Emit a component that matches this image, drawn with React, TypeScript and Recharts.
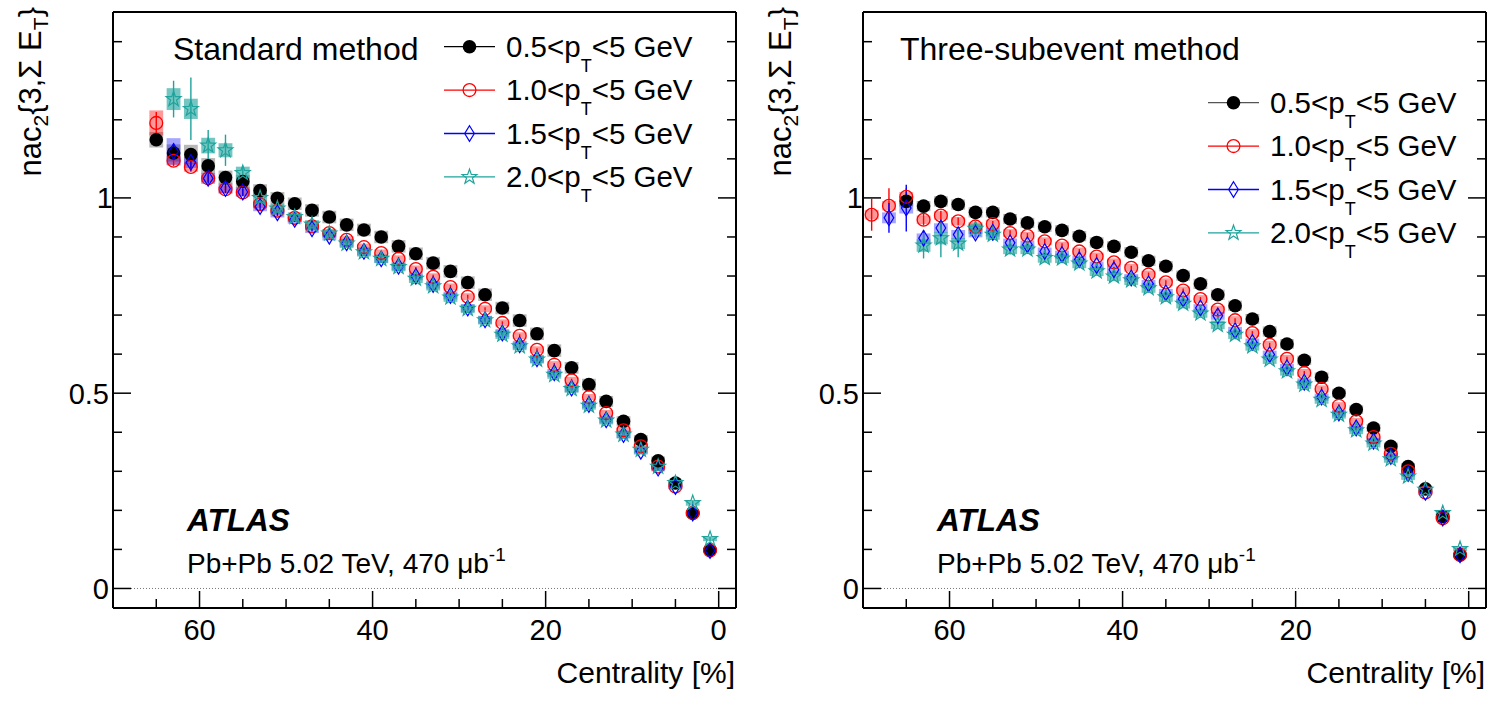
import React from 'react';
import { ComposedChart, Scatter, XAxis, YAxis, ErrorBar, ReferenceArea, ReferenceLine, Legend } from 'recharts';

const FONT = '"Liberation Sans", Arial, Helvetica, sans-serif';

// ---------- axis ticks ----------
const xTicks = [0, 5, 10, 15, 20, 25, 30, 35, 40, 45, 50, 55, 60, 65];
const xMajor = [0, 20, 40, 60];
const yTicks = [0, 0.1, 0.2, 0.3, 0.4, 0.5, 0.6, 0.7, 0.8, 0.9, 1.0, 1.1, 1.2, 1.3, 1.4];
const yMajor = [0, 0.5, 1];
const yTickLabels = ['0', '0.5', '1'];

// ---------- centrality bin centres (%) ----------
const cent69 = [69, 67, 65, 63, 61, 59, 57, 55, 53, 51, 49, 47, 45, 43, 41, 39, 37, 35, 33, 31, 29, 27, 25, 23, 21, 19, 17, 15, 13, 11, 9, 7, 5, 3, 1];
const cent67 = [67, 65, 63, 61, 59, 57, 55, 53, 51, 49, 47, 45, 43, 41, 39, 37, 35, 33, 31, 29, 27, 25, 23, 21, 19, 17, 15, 13, 11, 9, 7, 5, 3, 1];
const cent65 = [65, 63, 61, 59, 57, 55, 53, 51, 49, 47, 45, 43, 41, 39, 37, 35, 33, 31, 29, 27, 25, 23, 21, 19, 17, 15, 13, 11, 9, 7, 5, 3, 1];
const cent63 = [63, 61, 59, 57, 55, 53, 51, 49, 47, 45, 43, 41, 39, 37, 35, 33, 31, 29, 27, 25, 23, 21, 19, 17, 15, 13, 11, 9, 7, 5, 3, 1];

// ---------- legend labels (lower pT bound) ----------
const ptLow = ['0.5', '1.0', '1.5', '2.0'];

// ---------- Standard method ----------
const stdBlack = [1.149, 1.115, 1.111, 1.082, 1.052, 1.042, 1.019, 0.999, 0.985, 0.968, 0.951, 0.931, 0.918, 0.900, 0.876, 0.857, 0.833, 0.812, 0.783, 0.752, 0.718, 0.686, 0.652, 0.609, 0.565, 0.522, 0.479, 0.428, 0.381, 0.327, 0.270, 0.193, 0.099];
const stdBlackStat = [0.012, 0.01, 0.01, 0.008, 0.007, 0.006, 0.006, 0.005, 0.005, 0.005, 0.004, 0.004, 0.004, 0.004, 0.004, 0.004, 0.004, 0.004, 0.004, 0.004, 0.004, 0.003, 0.003, 0.003, 0.003, 0.003, 0.003, 0.003, 0.003, 0.003, 0.003, 0.003, 0.003];
const stdBlackSys = [0.02, 0.022, 0.025, 0.02, 0.018, 0.017, 0.016, 0.016, 0.016, 0.016, 0.016, 0.016, 0.016, 0.016, 0.016, 0.016, 0.016, 0.016, 0.016, 0.016, 0.016, 0.016, 0.016, 0.016, 0.015, 0.015, 0.014, 0.013, 0.012, 0.011, 0.009, 0.007, 0.005];

const stdRed = [1.192, 1.095, 1.079, 1.050, 1.022, 1.014, 0.984, 0.967, 0.949, 0.927, 0.910, 0.893, 0.874, 0.859, 0.844, 0.818, 0.798, 0.772, 0.747, 0.716, 0.680, 0.647, 0.611, 0.573, 0.533, 0.490, 0.449, 0.405, 0.364, 0.312, 0.261, 0.193, 0.097];
const stdRedStat = [0.028, 0.014, 0.012, 0.01, 0.009, 0.008, 0.007, 0.006, 0.006, 0.005, 0.005, 0.005, 0.005, 0.005, 0.005, 0.005, 0.005, 0.005, 0.005, 0.004, 0.004, 0.004, 0.004, 0.004, 0.004, 0.004, 0.004, 0.004, 0.004, 0.004, 0.004, 0.004, 0.004];
const stdRedSys = [0.032, 0.012, 0.012, 0.01, 0.01, 0.01, 0.01, 0.01, 0.01, 0.009, 0.009, 0.009, 0.009, 0.009, 0.009, 0.009, 0.009, 0.009, 0.009, 0.009, 0.009, 0.009, 0.009, 0.009, 0.009, 0.008, 0.008, 0.008, 0.007, 0.007, 0.006, 0.005, 0.004];

const stdBlue = [1.119, 1.091, 1.050, 1.024, 1.015, 0.978, 0.962, 0.945, 0.921, 0.902, 0.885, 0.863, 0.844, 0.825, 0.799, 0.778, 0.750, 0.718, 0.688, 0.654, 0.624, 0.588, 0.552, 0.513, 0.471, 0.432, 0.394, 0.351, 0.308, 0.261, 0.193, 0.097];
const stdBlueStat = [0.02, 0.016, 0.014, 0.012, 0.01, 0.009, 0.008, 0.007, 0.007, 0.006, 0.006, 0.006, 0.006, 0.006, 0.006, 0.005, 0.005, 0.005, 0.005, 0.005, 0.005, 0.005, 0.005, 0.005, 0.005, 0.005, 0.005, 0.005, 0.005, 0.005, 0.005, 0.005];
const stdBlueSys = [0.034, 0.014, 0.014, 0.013, 0.012, 0.012, 0.012, 0.011, 0.011, 0.011, 0.01, 0.01, 0.01, 0.01, 0.01, 0.01, 0.01, 0.01, 0.01, 0.01, 0.01, 0.01, 0.01, 0.01, 0.009, 0.009, 0.009, 0.008, 0.008, 0.007, 0.006, 0.005];

const stdTeal = [1.253, 1.228, 1.134, 1.122, 1.064, 1.000, 0.973, 0.951, 0.932, 0.909, 0.883, 0.861, 0.844, 0.823, 0.793, 0.774, 0.745, 0.716, 0.687, 0.650, 0.620, 0.586, 0.547, 0.511, 0.468, 0.430, 0.394, 0.355, 0.312, 0.270, 0.219, 0.127];
const stdTealStat = [0.047, 0.08, 0.04, 0.04, 0.016, 0.013, 0.011, 0.01, 0.009, 0.008, 0.008, 0.007, 0.007, 0.007, 0.007, 0.007, 0.006, 0.006, 0.006, 0.006, 0.006, 0.006, 0.006, 0.006, 0.006, 0.006, 0.006, 0.006, 0.006, 0.006, 0.006, 0.006];
const stdTealSys = [0.028, 0.026, 0.02, 0.018, 0.016, 0.013, 0.012, 0.012, 0.011, 0.011, 0.011, 0.011, 0.011, 0.011, 0.011, 0.011, 0.011, 0.011, 0.011, 0.011, 0.01, 0.01, 0.01, 0.01, 0.01, 0.01, 0.01, 0.009, 0.009, 0.008, 0.007, 0.006];

// ---------- Three-subevent method ----------
const subBlack = [0.991, 0.979, 0.991, 0.983, 0.963, 0.963, 0.946, 0.936, 0.926, 0.917, 0.902, 0.886, 0.876, 0.861, 0.839, 0.825, 0.801, 0.780, 0.752, 0.724, 0.690, 0.658, 0.626, 0.584, 0.541, 0.500, 0.458, 0.411, 0.364, 0.312, 0.255, 0.184, 0.086];
const subBlackStat = [0.015, 0.012, 0.01, 0.009, 0.008, 0.007, 0.006, 0.006, 0.005, 0.005, 0.005, 0.005, 0.004, 0.004, 0.004, 0.004, 0.004, 0.004, 0.004, 0.004, 0.004, 0.004, 0.004, 0.004, 0.004, 0.004, 0.003, 0.003, 0.003, 0.003, 0.003, 0.003, 0.003];
const subBlackSys = [0.013, 0.013, 0.013, 0.013, 0.013, 0.013, 0.013, 0.013, 0.013, 0.013, 0.013, 0.013, 0.013, 0.013, 0.013, 0.013, 0.013, 0.013, 0.013, 0.013, 0.013, 0.013, 0.012, 0.012, 0.012, 0.011, 0.011, 0.01, 0.01, 0.009, 0.008, 0.007, 0.005];

const subRed = [0.957, 0.980, 1.003, 0.944, 0.955, 0.940, 0.927, 0.933, 0.910, 0.903, 0.889, 0.878, 0.863, 0.850, 0.835, 0.821, 0.804, 0.784, 0.763, 0.741, 0.714, 0.687, 0.654, 0.624, 0.588, 0.552, 0.511, 0.468, 0.428, 0.388, 0.345, 0.300, 0.246, 0.180, 0.086];
const subRedStat = [0.041, 0.045, 0.022, 0.015, 0.012, 0.01, 0.009, 0.008, 0.007, 0.007, 0.006, 0.006, 0.006, 0.006, 0.006, 0.005, 0.005, 0.005, 0.005, 0.005, 0.005, 0.005, 0.005, 0.005, 0.005, 0.005, 0.005, 0.004, 0.004, 0.004, 0.004, 0.004, 0.004, 0.004, 0.004];
const subRedSys = [0.012, 0.012, 0.012, 0.011, 0.011, 0.011, 0.011, 0.011, 0.01, 0.01, 0.01, 0.01, 0.01, 0.01, 0.01, 0.01, 0.01, 0.01, 0.01, 0.01, 0.01, 0.01, 0.01, 0.01, 0.01, 0.01, 0.009, 0.009, 0.009, 0.008, 0.008, 0.007, 0.006, 0.005, 0.004];

const subBlue = [0.949, 0.974, 0.897, 0.923, 0.906, 0.910, 0.912, 0.885, 0.880, 0.863, 0.855, 0.842, 0.827, 0.816, 0.795, 0.780, 0.757, 0.741, 0.718, 0.698, 0.660, 0.630, 0.599, 0.565, 0.528, 0.490, 0.449, 0.411, 0.377, 0.338, 0.294, 0.246, 0.180, 0.086];
const subBlueStat = [0.038, 0.06, 0.02, 0.016, 0.013, 0.011, 0.01, 0.009, 0.008, 0.008, 0.007, 0.007, 0.007, 0.007, 0.006, 0.006, 0.006, 0.006, 0.006, 0.006, 0.006, 0.006, 0.006, 0.006, 0.005, 0.005, 0.005, 0.005, 0.005, 0.005, 0.005, 0.005, 0.005, 0.005];
const subBlueSys = [0.014, 0.014, 0.012, 0.012, 0.012, 0.011, 0.011, 0.011, 0.011, 0.01, 0.01, 0.01, 0.01, 0.01, 0.01, 0.01, 0.01, 0.01, 0.01, 0.01, 0.01, 0.01, 0.01, 0.01, 0.01, 0.009, 0.009, 0.009, 0.008, 0.008, 0.007, 0.006, 0.005, 0.004];

const subTeal = [0.878, 0.897, 0.883, 0.921, 0.906, 0.868, 0.868, 0.846, 0.845, 0.832, 0.812, 0.799, 0.789, 0.769, 0.746, 0.729, 0.704, 0.675, 0.650, 0.620, 0.586, 0.556, 0.522, 0.483, 0.445, 0.405, 0.371, 0.331, 0.287, 0.253, 0.193, 0.101];
const subTealStat = [0.033, 0.049, 0.035, 0.025, 0.016, 0.013, 0.011, 0.01, 0.009, 0.009, 0.008, 0.008, 0.008, 0.007, 0.007, 0.007, 0.007, 0.007, 0.007, 0.007, 0.006, 0.006, 0.006, 0.006, 0.006, 0.006, 0.006, 0.006, 0.006, 0.006, 0.006, 0.006];
const subTealSys = [0.016, 0.016, 0.014, 0.013, 0.013, 0.012, 0.012, 0.012, 0.012, 0.012, 0.012, 0.012, 0.012, 0.012, 0.012, 0.012, 0.011, 0.011, 0.011, 0.011, 0.011, 0.011, 0.011, 0.01, 0.01, 0.01, 0.01, 0.009, 0.009, 0.008, 0.007, 0.006];

// ---------- styles ----------
const BLACK = '#000000';
const RED = '#ff0000';
const BLUE = '#0000ff';
const TEAL = '#1fa39c';

type Kind = 'dot' | 'circle' | 'diamond' | 'star';
interface Series {
  name: string;
  cent: number[];
  val: number[];
  stat: number[];
  sys: number[];
  color: string;
  boxColor: string;
  boxOpacity: number;
  kind: Kind;
}

function starPath(cx: number, cy: number, R: number, r: number) {
  let d = '';
  for (let i = 0; i < 10; i++) {
    const a = -Math.PI / 2 + (i * Math.PI) / 5;
    const rad = i % 2 === 0 ? R : r;
    d += (i === 0 ? 'M' : 'L') + (cx + rad * Math.cos(a)).toFixed(2) + ',' + (cy + rad * Math.sin(a)).toFixed(2);
  }
  return d + 'Z';
}

function marker(kind: Kind, cx: number, cy: number, color: string) {
  if (cx == null || cy == null || isNaN(cx) || isNaN(cy)) return <g />;
  switch (kind) {
    case 'dot':
      return <circle cx={cx} cy={cy} r={6.8} fill={color} stroke="none" />;
    case 'circle':
      return <circle cx={cx} cy={cy} r={6.4} fill="none" stroke={color} strokeWidth={1.3} />;
    case 'diamond':
      return <path d={`M${cx},${cy - 7.8}L${cx + 4.8},${cy}L${cx},${cy + 7.8}L${cx - 4.8},${cy}Z`} fill="none" stroke={color} strokeWidth={1.2} />;
    default:
      return <path d={starPath(cx, cy, 7.8, 3.1)} fill="none" stroke={color} strokeWidth={1.2} />;
  }
}

function mkSeries(name: string, cent: number[], val: number[], stat: number[], sys: number[], color: string, boxColor: string, boxOpacity: number, kind: Kind): Series {
  return { name, cent, val, stat, sys, color, boxColor, boxOpacity, kind };
}

const stdSeries: Series[] = [
  mkSeries(ptLow[0], cent65, stdBlack, stdBlackStat, stdBlackSys, BLACK, '#000000', 0.28, 'dot'),
  mkSeries(ptLow[1], cent65, stdRed, stdRedStat, stdRedSys, RED, RED, 0.4, 'circle'),
  mkSeries(ptLow[2], cent63, stdBlue, stdBlueStat, stdBlueSys, BLUE, BLUE, 0.35, 'diamond'),
  mkSeries(ptLow[3], cent63, stdTeal, stdTealStat, stdTealSys, TEAL, TEAL, 0.62, 'star'),
];

const subSeries: Series[] = [
  mkSeries(ptLow[0], cent65, subBlack, subBlackStat, subBlackSys, BLACK, '#000000', 0.28, 'dot'),
  mkSeries(ptLow[1], cent69, subRed, subRedStat, subRedSys, RED, RED, 0.4, 'circle'),
  mkSeries(ptLow[2], cent67, subBlue, subBlueStat, subBlueSys, BLUE, BLUE, 0.35, 'diamond'),
  mkSeries(ptLow[3], cent63, subTeal, subTealStat, subTealSys, TEAL, TEAL, 0.62, 'star'),
];

const BOX_HALF = 0.8; // half width of systematic box in centrality units

// ---------- tick renderers ----------
const isMajorX = (v: number) => xMajor.indexOf(v) >= 0;
const isMajorY = (v: number) => yMajor.some((m) => Math.abs(m - v) < 1e-6);

const XTickBottom = (p: any) => {
  const { x, y, payload } = p;
  const v = payload.value;
  const major = isMajorX(v);
  return (
    <g>
      <line x1={x} x2={x} y1={y} y2={y - (major ? 17 : 9)} stroke="#000" strokeWidth={1.5} />
      {major && (
        <text x={x} y={y + 32} textAnchor="middle" fontSize={29} fontFamily={FONT} fill="#000">
          {String(v)}
        </text>
      )}
    </g>
  );
};

const XTickTop = (p: any) => {
  const { x, y, payload } = p;
  const major = isMajorX(payload.value);
  return <line x1={x} x2={x} y1={y} y2={y + (major ? 17 : 9)} stroke="#000" strokeWidth={1.5} />;
};

const YTickLeft = (p: any) => {
  const { x, y, payload } = p;
  const v = payload.value;
  const major = isMajorY(v);
  const idx = yMajor.findIndex((m) => Math.abs(m - v) < 1e-6);
  const label = idx >= 0 ? yTickLabels[idx] : '';
  return (
    <g>
      <line x1={x} x2={x + (major ? 18 : 9)} y1={y} y2={y} stroke="#000" strokeWidth={1.5} />
      {major && (
        <text x={x - 4 + (label === '1' ? 4 : 0)} y={y + 10.5} textAnchor="end" fontSize={29} fontFamily={FONT} fill="#000">
          {label}
        </text>
      )}
    </g>
  );
};

const YTickRight = (p: any) => {
  const { x, y, payload } = p;
  const major = isMajorY(payload.value);
  return <line x1={x} x2={x - (major ? 18 : 9)} y1={y} y2={y} stroke="#000" strokeWidth={1.5} />;
};

// ---------- legend ----------
const LegendBox = ({ series, firstLineColor }: { series: Series[]; firstLineColor: string }) => (
  <svg width={320} height={180} style={{ overflow: 'visible', display: 'block' }}>
    {series.map((s, i) => {
      const cy = 22.7 + i * 43.4;
      return (
        <g key={s.name}>
          <line x1={4} x2={55} y1={cy} y2={cy} stroke={i === 0 ? firstLineColor : s.color} strokeWidth={1.3} />
          {marker(s.kind, 29.5, cy, s.color)}
          <text x={66} y={cy + 10} fontSize={29.5} fontFamily={FONT} fill="#000">
            {s.name}&lt;p
            <tspan fontSize={18} dy={15}>T</tspan>
            <tspan dy={-15}>&lt;5 GeV</tspan>
          </text>
        </g>
      );
    })}
  </svg>
);

// ---------- panel ----------
const W = 750;
const H = 705;
// plot frame: x 113..736, y 12..608 (axes take 1px each)
const MARGIN = { top: 11, right: 13, bottom: 96, left: 112 };

function Panel({ series, title, titleX, legendLeft, legendTop, firstLineColor, left }: {
  series: Series[]; title: string; titleX: number; legendLeft: number; legendTop: number; firstLineColor: string; left: number;
}) {
  const boxes: React.ReactNode[] = [];
  series.forEach((s, si) => {
    s.cent.forEach((c, i) => {
      boxes.push(
        <ReferenceArea
          key={`b${si}-${i}`}
          x1={c + BOX_HALF}
          x2={c - BOX_HALF}
          y1={s.val[i] - s.sys[i]}
          y2={s.val[i] + s.sys[i]}
          fill={s.boxColor}
          fillOpacity={s.boxOpacity}
          stroke="none"
          ifOverflow="visible"
        />
      );
    });
  });

  return (
    <div style={{ position: 'absolute', left, top: 0, width: W, height: H }}>
      <ComposedChart width={W} height={H} margin={MARGIN}>
        <XAxis
          xAxisId={0}
          type="number"
          dataKey="x"
          domain={[-2, 70]}
          reversed
          allowDataOverflow
          ticks={xTicks}
          interval={0}
          height={1}
          tickSize={0}
          tickMargin={0}
          tickLine={false}
          tick={XTickBottom}
          axisLine={{ stroke: '#000', strokeWidth: 2 }}
          orientation="bottom"
        />
        <XAxis
          xAxisId="top"
          type="number"
          domain={[-2, 70]}
          reversed
          allowDataOverflow
          ticks={xTicks}
          interval={0}
          height={1}
          tickSize={0}
          tickMargin={0}
          tickLine={false}
          tick={XTickTop}
          axisLine={{ stroke: '#000', strokeWidth: 2 }}
          orientation="top"
        />
        <YAxis
          yAxisId={0}
          type="number"
          dataKey="y"
          domain={[-0.05, 1.476]}
          allowDataOverflow
          ticks={yTicks}
          interval={0}
          width={1}
          tickSize={0}
          tickMargin={0}
          tickLine={false}
          tick={YTickLeft}
          axisLine={{ stroke: '#000', strokeWidth: 2 }}
          orientation="left"
        />
        <YAxis
          yAxisId="right"
          type="number"
          domain={[-0.05, 1.476]}
          allowDataOverflow
          ticks={yTicks}
          interval={0}
          width={1}
          tickSize={0}
          tickMargin={0}
          tickLine={false}
          tick={YTickRight}
          axisLine={{ stroke: '#000', strokeWidth: 2 }}
          orientation="right"
        />
        <ReferenceLine y={0} stroke="#777" strokeWidth={1} strokeDasharray="1 2" />
        {boxes}
        {series.map((s) => (
          <Scatter
            key={s.name}
            name={s.name}
            data={s.cent.map((c, i) => ({ x: c, y: s.val[i], err: s.stat[i] }))}
            fill={s.color}
            isAnimationActive={false}
            shape={(p: any) => marker(s.kind, p.cx, p.cy, s.color)}
          >
            <ErrorBar dataKey="err" direction="y" width={0} stroke={s.color} strokeWidth={1.4} />
          </Scatter>
        ))}
        <Legend
          layout="vertical"
          align="center"
          verticalAlign="middle"
          wrapperStyle={{ left: legendLeft, top: legendTop, width: 320, height: 180, bottom: 'auto', right: 'auto' }}
          content={() => <LegendBox series={series} firstLineColor={firstLineColor} />}
        />
      </ComposedChart>
      <svg width={W} height={H} style={{ position: 'absolute', left: 0, top: 0, pointerEvents: 'none' }}>
        <text x={titleX} y={60} fontSize={32} fontFamily={FONT} fill="#000">{title}</text>
        <text x={187} y={531} fontSize={31.5} fontFamily={FONT} fontWeight="bold" fontStyle="italic" fill="#000">ATLAS</text>
        <text x={187} y={573} fontSize={28} fontFamily={FONT} fill="#000">
          Pb+Pb 5.02 TeV, 470 μb<tspan fontSize={19} dy={-12}>-1</tspan>
        </text>
        <text x={735} y={683} fontSize={30} fontFamily={FONT} fill="#000" textAnchor="end">Centrality [%]</text>
        <text x={41} y={7} fontSize={31} fontFamily={FONT} fill="#000" textAnchor="end" transform="rotate(-90, 41, 7)">
          nac<tspan fontSize={21} dy={7}>2</tspan><tspan dy={-7}>{'{3,Σ E'}</tspan><tspan fontSize={21} dy={7}>T</tspan><tspan dy={-7}>{'}'}</tspan>
        </text>
      </svg>
    </div>
  );
}

export default function App() {
  return (
    <div style={{ position: 'absolute', left: 0, top: 0, width: 1500, height: 705, background: '#fff', fontFamily: FONT }}>
      <Panel series={stdSeries} title="Standard method" titleX={173} legendLeft={440} legendTop={24} firstLineColor="#000" left={0} />
      <Panel series={subSeries} title="Three-subevent method" titleX={150} legendLeft={454} legendTop={80} firstLineColor="#555" left={750} />
    </div>
  );
}
